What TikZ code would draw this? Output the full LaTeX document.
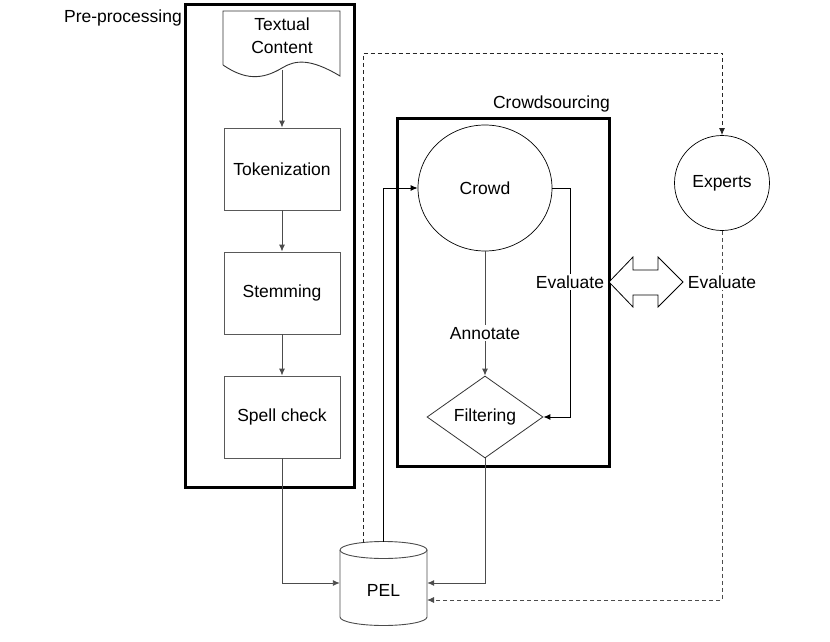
\documentclass[tikz,border=0pt]{standalone}
\usepackage{fontspec}
\setmainfont{Liberation Sans}
\usetikzlibrary{arrows.meta,shapes.geometric}
\begin{document}
\begin{tikzpicture}[x=1pt,y=-1pt,
  every node/.style={font=\fontsize{17.5}{23}\selectfont, inner sep=0pt},
  procbox/.style={draw=black!65, line width=0.9pt, minimum width=116pt, minimum height=82pt},
  groupbox/.style={draw=black, line width=3pt},
  arr/.style={draw=black!70, line width=0.9pt, -{Latex[length=7pt,width=6pt]}},
  darr/.style={arr, dashed, dash pattern=on 4pt off 3pt},
  lbl/.style={fill=white, inner sep=2pt}]
\useasboundingbox (0,0) rectangle (830,642);
% group boxes
\draw[groupbox] (185,5) rectangle (354,487);
\node[anchor=east] (pre) at (182,18) {Pre-processing};
\draw[groupbox] (397,118) rectangle (609,466);
\node[anchor=east] (cs) at (610,104) {Crowdsourcing};
% document shape
\draw[black!80, line width=0.9pt] (223,65) -- (223,11) -- (340,11) -- (340,76)
  .. controls (310,58) and (295,60) .. (282,68)
  .. controls (262,80) and (245,80) .. (223,65);
\node[align=center] (doc) at (282,36) {Textual\\Content};
\coordinate (docb) at (282,70);
% process boxes
\node[procbox] (tok) at (282,169) {Tokenization};
\node[procbox] (stem) at (282,293) {Stemming};
\node[procbox] (spell) at (282,417) {Spell check};
% PEL cylinder
\node[minimum width=87pt, minimum height=84pt] (pel) at (383.5,583) {};
\node at (383.5,590) {PEL};
\draw[black!70, line width=0.9pt] (340,550) -- (340,617)
  arc[start angle=180, end angle=360, x radius=43.5pt, y radius=8.5pt] -- (427,550);
\draw[black!70, line width=0.9pt, fill=white] (383.5,550) ellipse[x radius=43.5pt, y radius=8.5pt];
\coordinate (peltopA) at (363,542.5);
\coordinate (peltopB) at (383,541.5);
\coordinate (pelin) at (427,600);
% crowd, filtering, experts
\node[ellipse, draw=black, line width=0.7pt, minimum width=134pt, minimum height=126pt] (crowd) at (485,188) {Crowd};
\node[diamond, draw=black!80, line width=0.8pt, minimum width=116pt, minimum height=82pt] (filter) at (485,417) {Filtering};
\node[circle, draw=black, line width=0.7pt, minimum size=95pt] (experts) at (722,183) {Experts};
% connectors
\draw[arr] (docb) -- (tok.north);
\draw[arr] (tok.south) -- (stem.north);
\draw[arr] (stem.south) -- (spell.north);
\draw[arr] (spell.south) |- (pel.west);
\draw[arr] (filter.south) |- (pel.east);
\draw[arr, draw=black] (peltopB) |- (crowd.west);
\draw[arr] (crowd.south) -- node[lbl, pos=0.66] (ann) {Annotate} (filter.north);
\coordinate (cr) at (570,188);
\draw[arr, draw=black] (crowd.east) -- (cr) |- (filter.east);
\node[lbl] (ev1) at (570,282) {Evaluate};
\draw[darr, draw=black!85] (peltopA) -- (363,53) -| (experts.north);
\draw[darr] (experts.south) |- (pelin);
\node[lbl] (ev2) at (722,282) {Evaluate};
% double arrow
\draw[black, line width=0.8pt, fill=white] (609,282) -- (633,257) -- (633,270) -- (658,270) -- (658,257)
  -- (683,282) -- (658,307) -- (658,295) -- (633,295) -- (633,307) -- cycle;
\end{tikzpicture}
\end{document}
